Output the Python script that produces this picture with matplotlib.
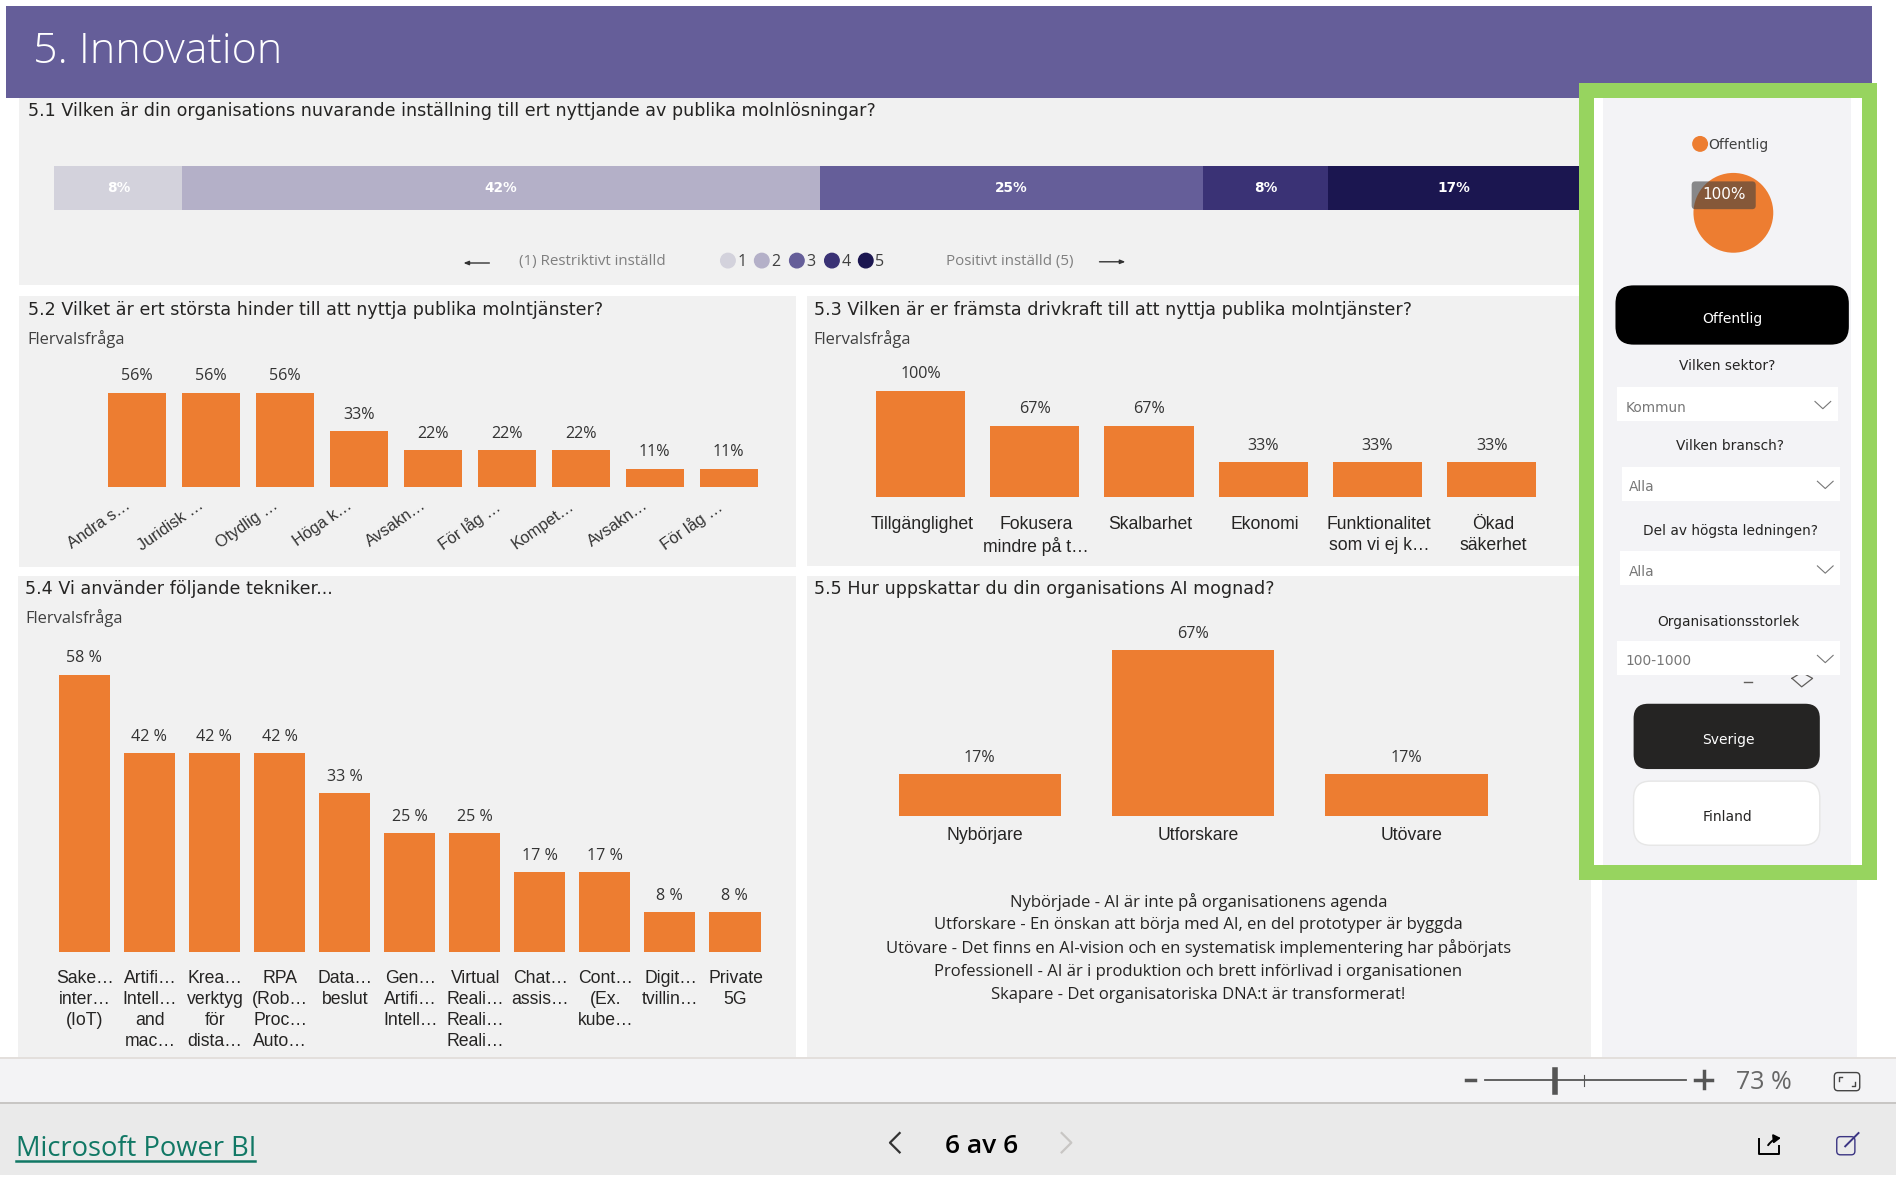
import matplotlib
matplotlib.use("Agg")
import matplotlib.pyplot as plt
from matplotlib.patches import Rectangle, FancyBboxPatch, Circle
from matplotlib.transforms import ScaledTranslation

# data
stack_values = [8.4, 41.8, 25.1, 8.25, 16.45]
stack_labels = ["8%", "42%", "25%", "8%", "17%"]
stack_colors = ["#D3D2DC", "#B4B0C8", "#655E99", "#3A3275", "#1B1650"]
legend_names = ["1", "2", "3", "4", "5"]

hinder_names = ["Andra s…", "Juridisk …", "Otydlig …", "Höga k…", "Avsakn…", "För låg …",
                "Kompet…", "Avsakn…", "För låg …"]
hinder_values = [56, 56, 56, 33, 22, 22, 22, 11, 11]

driv_names = ["Tillgänglighet", "Fokusera\nmindre på t…", "Skalbarhet", "Ekonomi",
              "Funktionalitet\nsom vi ej k…", "Ökad\nsäkerhet"]
driv_values = [100, 67, 67, 33, 33, 33]

tek_names = ["Sake…\ninter…\n(IoT)", "Artifi…\nIntell…\nand\nmac…", "Krea…\nverktyg\nför\ndista…",
             "RPA\n(Rob…\nProc…\nAuto…", "Data…\nbeslut", "Gen…\nArtifi…\nIntell…",
             "Virtual\nReali…\nReali…\nReali…", "Chat…\nassis…", "Cont…\n(Ex.\nkube…",
             "Digit…\ntvillin…", "Private\n5G"]
tek_values = [58.3, 41.7, 41.7, 41.7, 33.3, 25, 25, 16.7, 16.7, 8.3, 8.3]
tek_labels = ["58 %", "42 %", "42 %", "42 %", "33 %", "25 %", "25 %", "17 %", "17 %", "8 %", "8 %"]

mognad_names = ["Nybörjare", "Utforskare", "Utövare"]
mognad_values = [17, 67, 17]

mognad_text = ["Nybörjade - AI är inte på organisationens agenda",
               "Utforskare - En önskan att börja med AI, en del prototyper är byggda",
               "Utövare - Det finns en AI-vision och en systematisk implementering har påbörjats",
               "Professionell - AI är i produktion och brett införlivad i organisationen",
               "Skapare - Det organisatoriska DNA:t är transformerat!"]
sektor_values = [100]

ORANGE = "#ED7D31"
PANEL = "#F1F1F1"
W, H = 1568.0, 977.5
BODY = "Open Sans"
AXIS = "Liberation Sans"

fig = plt.figure(figsize=(18.96, 11.82), dpi=100, facecolor="white")


def box(x0, y0, x1, y1, z):
    # axes from screen coordinates
    ax = fig.add_axes([x0 / W, 1 - y1 / H, (x1 - x0) / W, (y1 - y0) / H], zorder=z)
    ax.patch.set_alpha(0)
    return ax


def rect(ax, x0, y0, x1, y1, c, **kw):
    ax.add_patch(Rectangle((x0, y0), x1 - x0, y1 - y0, facecolor=c, edgecolor="none", **kw))


def pill(ax, x0, y0, x1, y1, c, ec="none", r=14):
    ax.add_patch(FancyBboxPatch((x0 + r, y0 + r), x1 - x0 - 2 * r, y1 - y0 - 2 * r,
                                boxstyle="round,pad=%d" % r, facecolor=c, edgecolor=ec, lw=1))


def overlay(z):
    ax = box(0, 0, W, H, z)
    ax.set_xlim(0, W)
    ax.set_ylim(H, 0)
    ax.axis("off")
    return ax


def columns(x0, step, y_base, y_top, per_pct, names, values, labels, width, pad, lab_pad, rot=0, shift=0):
    n = len(values)
    ax = box(x0, y_top, x0 + step * n, y_base, 2)
    bars = ax.bar(range(n), values, width=width, color=ORANGE)
    ax.set_xlim(-0.5, n - 0.5)
    ax.set_ylim(0, (y_base - y_top) / per_pct)
    ax.bar_label(bars, labels=labels, padding=lab_pad, fontsize=11.6, color="#333333", family=BODY)
    ax.set_yticks([])
    ax.set_xticks(range(n))
    if rot:
        ax.set_xticklabels(names, rotation=rot, ha="right", rotation_mode="anchor",
                           fontsize=11.7, color="#333333", family=AXIS)
    else:
        ax.set_xticklabels(names, fontsize=12.7, color="#252423", family=AXIS, linespacing=1.3)
    ax.tick_params(axis="x", length=0, pad=pad)
    off = ScaledTranslation(shift / 72, 0, fig.dpi_scale_trans)
    for t in ax.get_xticklabels():
        t.set_transform(t.get_transform() + off)
    for s in ax.spines.values():
        s.set_visible(False)
    return ax


bg = overlay(0)
# header and panels
rect(bg, 5, 5, 1548, 81, "#655E99")
rect(bg, 16, 81, 1306, 236, PANEL)
rect(bg, 16, 245, 658, 469, PANEL)
rect(bg, 667, 245, 1306, 468, PANEL)
rect(bg, 15, 476, 658, 874, PANEL)
rect(bg, 667, 476, 1316, 874, PANEL)
rect(bg, 1325, 700, 1536, 874, "#F3F3F6")
# bottom bars
rect(bg, 0, 875, W, 912, "#F3F3F5")
rect(bg, 0, 874, W, 876, "#E3DFDC")
rect(bg, 0, 911, W, 913, "#C8C6C4")
rect(bg, 0, 913, W, 972, "#EAEAEA")

bg.text(27, 43, "5. Innovation", color="white", fontsize=31, family=BODY, fontweight="light", va="center")

titles = [(23, 92, "5.1 Vilken är din organisations nuvarande inställning till ert nyttjande av publika molnlösningar?"),
          (23, 256.5, "5.2 Vilket är ert största hinder till att nyttja publika molntjänster?"),
          (673, 256.5, "5.3 Vilken är er främsta drivkraft till att nyttja publika molntjänster?"),
          (21, 487.5, "5.4 Vi använder följande tekniker..."),
          (673, 487.5, "5.5 Hur uppskattar du din organisations AI mognad?")]
for x, y, t in titles:
    bg.text(x, y, t, fontsize=12.6, color="#252423", va="center")
for x, y in [(23, 280), (673, 280), (21, 511)]:
    bg.text(x, y, "Flervalsfråga", fontsize=11.9, color="#404040", family=BODY, va="center")

# 5.1 stacked bar
ax1 = box(45, 137, 1306, 173.5, 2)
left = 0
for v, lab, c in zip(stack_values, stack_labels, stack_colors):
    b = ax1.barh([0], [v], left=left, height=1, color=c)
    ax1.bar_label(b, labels=[lab], label_type="center", color="white", fontsize=9.8, fontweight="bold")
    left += v
ax1.set_xlim(0, 100)
ax1.set_ylim(-0.5, 0.5)
ax1.axis("off")

# 5.1 legend
bg.annotate("", xy=(381, 217.5), xytext=(407, 217.5), arrowprops=dict(arrowstyle="-|>,head_width=0.12,head_length=0.3", color="#333333", lw=1))
bg.annotate("", xy=(933, 216.5), xytext=(907, 216.5), arrowprops=dict(arrowstyle="-|>,head_width=0.12,head_length=0.3", color="#333333", lw=1))
bg.text(429, 216.5, "(1) Restriktivt inställd", fontsize=10.9, color="#7F7F7F", family=BODY, va="center")
bg.text(782, 216.5, "Positivt inställd (5)", fontsize=10.9, color="#7F7F7F", family=BODY, va="center")
for x, name, c in zip([602, 630, 659, 688, 716], legend_names, stack_colors):
    bg.add_patch(Circle((x, 215.5), 6, color=c))
    bg.text(x + 8, 216.5, name, fontsize=11.5, color="#404040", family=BODY, va="center")

# charts
columns(82.4, 61.2, 403, 300, 1.40, hinder_names, hinder_values, ["%d%%" % v for v in hinder_values],
        0.785, 7.5, 6, rot=35, shift=-9)
columns(714, 94.5, 411, 300, 0.88, driv_names, driv_values, ["%d%%" % v for v in driv_values],
        0.78, 13.5, 6, shift=1)
columns(42.8, 53.8, 787, 530, 3.93, tek_names, tek_values, tek_labels, 0.79, 13.5, 6, shift=0.5)
columns(722, 176.5, 675, 510, 2.05, mognad_names, mognad_values, ["%d%%" % v for v in mognad_values],
        0.76, 8, 5.5, shift=3.5)

for i, t in enumerate(mognad_text):
    bg.text(991, 746 + i * 19.2, t, fontsize=12, color="#252423", family=BODY, ha="center", va="center")

# side panel with green frame
fg = overlay(5)
rect(fg, 1306, 69, 1552, 81, "#97D45F")
rect(fg, 1306, 715, 1552, 727.5, "#97D45F")
rect(fg, 1306, 69, 1318, 727.5, "#97D45F")
rect(fg, 1540, 69, 1552, 727.5, "#97D45F")
rect(fg, 1318, 81, 1540, 715, "white", zorder=0.2)
rect(fg, 1326, 81, 1531, 715, "#F3F3F6", zorder=0.3)

fg.add_patch(Circle((1406, 119), 6, color=ORANGE))
fg.text(1413, 120, "Offentlig", fontsize=10, color="#404040", va="center")
pill(fg, 1336, 236, 1529, 285, "black", r=15)
fg.text(1433, 264, "Offentlig", fontsize=10, color="white", ha="center", va="center")

# the eraser icon sits partly behind the last dropdown
fg.plot([1442, 1449], [564, 564], color="#605E5C", lw=1, zorder=0.5)
fg.plot([1482, 1490, 1499, 1490, 1482], [561, 568, 561, 556, 561], color="#605E5C", lw=0.9, zorder=0.5)

slicers = [(1428, 303, "Vilken sektor?", 1337, 1520, 320, "Kommun", 1344),
           (1431, 369, "Vilken bransch?", 1341, 1522, 386, "Alla", 1347),
           (1431, 439, "Del av högsta ledningen?", 1340, 1522, 456, "Alla", 1347),
           (1429, 514, "Organisationsstorlek", 1337, 1522, 530, "100-1000", 1344)]
for cx, cy, head, x0, x1, y0, val, vx in slicers:
    fg.text(cx, cy, head, fontsize=9.9, color="#252423", ha="center", va="center")
    rect(fg, x0, y0, x1, y0 + 28, "white")
    fg.text(vx, y0 + 17, val, fontsize=9.9, color="#777777", va="center")
    fg.plot([x1 - 19, x1 - 12.5, x1 - 6], [y0 + 12, y0 + 18, y0 + 12], color="#777777", lw=0.8)

pill(fg, 1351, 582, 1505, 636, "#252423", r=12)
fg.text(1429, 612, "Sverige", fontsize=10, color="white", ha="center", va="center")
pill(fg, 1351, 646, 1505, 699, "white", ec="#E6E6E6", r=14)
fg.text(1429, 676, "Finland", fontsize=10, color="#252423", ha="center", va="center")

# pie
ax_pie = box(1400, 143, 1467, 209, 6)
ax_pie.pie(sektor_values, colors=[ORANGE], radius=1.0, startangle=90)
ax_pie.set_xlim(-1, 1)
ax_pie.set_ylim(-1, 1)

top = overlay(7)
pill(top, 1399, 150, 1452, 173, (0.25, 0.25, 0.25, 0.6), r=3)
top.text(1426, 161, "100%", fontsize=11, color="white", ha="center", va="center")

# status bar
DARK = "#555555"
bg.plot([1228, 1394], [893, 893], color=DARK, lw=1.3)
bg.plot([1286, 1286], [885, 903], color=DARK, lw=4)
bg.plot([1310, 1310], [889, 898], color=DARK, lw=0.8)
bg.plot([1212, 1220], [893, 893], color=DARK, lw=2.5)
bg.plot([1402, 1416], [893, 893], color=DARK, lw=2.5)
bg.plot([1409, 1409], [886, 900], color=DARK, lw=2.5)
bg.text(1436, 895.5, "73 %", fontsize=18, color="#666666", family=BODY, va="center")
pill(bg, 1517, 887, 1538, 902, "none", ec="#444444", r=3)
bg.plot([1523, 1521, 1521], [891, 891, 894], color="#444444", lw=1)
bg.plot([1532, 1534, 1534], [898, 898, 895], color="#444444", lw=1)

# footer
bg.text(13, 950.5, "Microsoft Power BI", fontsize=19.7, color="#117865", family=BODY, va="center")
bg.plot([13, 211], [960, 960], color="#117865", lw=1.8)
bg.plot([744, 736, 744], [937, 945, 953], color="#333333", lw=1.6)
bg.text(812, 948, "6 av 6", fontsize=19, color="black", family=BODY, fontweight="semibold", ha="center", va="center")
bg.plot([878, 886, 878], [937, 945, 953], color="#C8C6C4", lw=1.6)
# share and popout icons
bg.plot([1455, 1455, 1471, 1471], [942, 954, 954, 948], color="black", lw=1.4)
bg.annotate("", xy=(1475, 941), xytext=(1461, 949), arrowprops=dict(arrowstyle="-|>,head_width=0.25,head_length=0.4", color="black", lw=1.4, connectionstyle="arc3,rad=-0.3"))
pill(bg, 1519, 940, 1534, 955, "none", ec="#3B3583", r=3)
bg.plot([1526, 1537], [948, 937], color="#3B3583", lw=1.4)

fig.savefig("out.png", dpi=100)
